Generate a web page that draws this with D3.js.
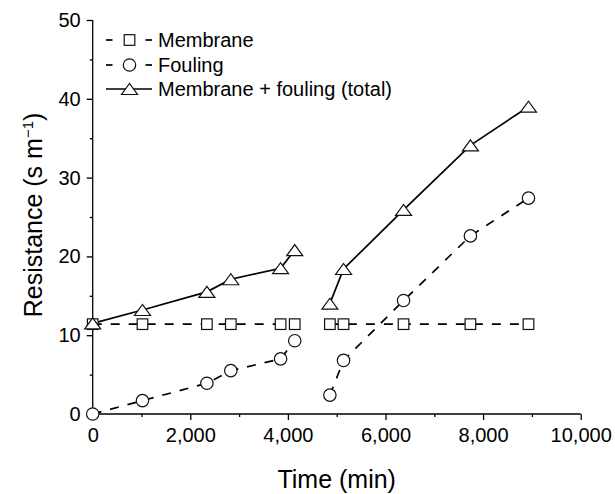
<!DOCTYPE html>
<html>
<head>
<meta charset="utf-8">
<script src="https://cdn.jsdelivr.net/npm/d3@7"></script>
<style>
  html, body { margin: 0; padding: 0; background: #fff; }
  svg { display: block; }
  text { font-family: Arial, "Liberation Sans", Helvetica, sans-serif; fill: #000; }
</style>
</head>
<body>
<svg id="chart" width="615" height="494"></svg>
<script>
// ---- data ----
const timeMin   = [0, 1020, 2340, 2830, 3850, 4140, 4860, 5140, 6370, 7740, 8930];
const runId     = [1, 1, 1, 1, 1, 1, 2, 2, 2, 2, 2];
const membrane  = [11.4, 11.4, 11.4, 11.4, 11.4, 11.4, 11.4, 11.4, 11.4, 11.4, 11.4];
const fouling   = [0, 1.7, 3.9, 5.5, 7.0, 9.3, 2.4, 6.8, 14.4, 22.6, 27.4];
const total     = [11.5, 13.2, 15.5, 17.1, 18.5, 20.8, 14.0, 18.4, 25.9, 34.1, 39.0];

const xMajorTicks = [0, 2000, 4000, 6000, 8000, 10000];
const xMinorTicks = [1000, 3000, 5000, 7000, 9000];
const yMajorTicks = [0, 10, 20, 30, 40, 50];
const yMinorTicks = [5, 15, 25, 35, 45];

const seriesNames = ["Membrane", "Fouling", "Membrane + fouling (total)"];

// ---- layout ----
const svg = d3.select("#chart");
const x = d3.scaleLinear().domain([0, 10000]).range([92.7, 580.7]);
const y = d3.scaleLinear().domain([0, 50]).range([414, 20]);

const tickFont = 20;
const ink = "#000";

// axes
const gx = svg.append("g").attr("transform", `translate(0,${y(0)})`);
gx.call(d3.axisBottom(x).tickValues(xMajorTicks).tickSize(6).tickPadding(8)
  .tickFormat(d3.format(",")));
gx.append("g").call(d3.axisBottom(x).tickValues(xMinorTicks).tickSize(3).tickFormat(""))
  .select(".domain").remove();

const gy = svg.append("g").attr("transform", `translate(${x(0)},0)`);
gy.call(d3.axisLeft(y).tickValues(yMajorTicks).tickSize(6).tickPadding(6));
gy.append("g").call(d3.axisLeft(y).tickValues(yMinorTicks).tickSize(3).tickFormat(""))
  .select(".domain").remove();

gx.select(".domain").attr("d", `M${x(0)},0H${x(10000)}`);
gy.select(".domain").attr("d", `M0,${y(0)}V${y(50)}`);
svg.selectAll(".tick line, .domain").attr("stroke", ink).attr("stroke-width", 1.3);
svg.selectAll(".tick text").style("font-size", tickFont + "px")
  .style("font-family", "Arial, 'Liberation Sans', sans-serif").attr("fill", ink);

// axis titles
svg.append("text")
  .attr("x", (x(0) + x(10000)) / 2).attr("y", 488)
  .attr("text-anchor", "middle").style("font-size", "25px")
  .text("Time (min)");

const yt = svg.append("text")
  .attr("transform", `translate(42,${(y(0) + y(50)) / 2 - 2}) rotate(-90)`)
  .attr("text-anchor", "middle").style("font-size", "25px");
yt.append("tspan").text("Resistance (s m");
yt.append("tspan").attr("dy", -9).style("font-size", "15px").text("\u22121");
yt.append("tspan").attr("dy", 9).text(")");

// ---- series ----
const rows = timeMin.map((t, i) => ({ t, run: runId[i], m: membrane[i], f: fouling[i], tot: total[i] }));
const runs = d3.groups(rows, d => d.run).map(g => g[1]);

const plot = svg.append("g");
const dash = "9,9";
const lineFor = key => d3.line().x(d => x(d.t)).y(d => y(d[key]));

const series = [
  { key: "m", dash: dash, shape: "square" },
  { key: "f", dash: dash, shape: "circle" },
  { key: "tot", dash: null, shape: "triangle" }
];

series.forEach(s => {
  runs.forEach(r => {
    plot.append("path").datum(r)
      .attr("d", lineFor(s.key))
      .attr("fill", "none").attr("stroke", ink).attr("stroke-width", 1.7)
      .attr("stroke-dasharray", s.dash);
  });
});

function drawMarker(g, shape, cx, cy) {
  const st = { fill: "#fff", stroke: "#111", sw: 1.2 };
  let el;
  if (shape === "square") {
    el = g.append("rect").attr("x", cx - 5.3).attr("y", cy - 5.3).attr("width", 10.6).attr("height", 10.6);
  } else if (shape === "circle") {
    el = g.append("circle").attr("cx", cx).attr("cy", cy).attr("r", 6.2);
  } else {
    el = g.append("path").attr("d", `M${cx - 8},${cy + 5.5}L${cx + 8},${cy + 5.5}L${cx},${cy - 5.5}Z`);
  }
  el.attr("fill", st.fill).attr("stroke", st.stroke).attr("stroke-width", st.sw);
}

series.forEach(s => {
  rows.forEach(d => drawMarker(plot, s.shape, x(d.t), y(d[s.key])));
});

// ---- legend ----
const leg = svg.append("g");
const legY = [40, 65, 89];
series.forEach((s, i) => {
  const ly = legY[i];
  if (s.dash) {
    leg.append("line").attr("x1", 106).attr("x2", 112.5).attr("y1", ly).attr("y2", ly)
      .attr("stroke", ink).attr("stroke-width", 1.7);
    leg.append("line").attr("x1", 145.5).attr("x2", 152).attr("y1", ly).attr("y2", ly)
      .attr("stroke", ink).attr("stroke-width", 1.7);
  } else {
    leg.append("line").attr("x1", 106).attr("x2", 152).attr("y1", ly).attr("y2", ly)
      .attr("stroke", ink).attr("stroke-width", 1.7);
  }
  drawMarker(leg, s.shape, 129.5, ly);
  leg.append("text").attr("x", 158).attr("y", ly).attr("dy", "0.36em")
    .style("font-size", "20px").text(seriesNames[i]);
});
</script>
</body>
</html>
